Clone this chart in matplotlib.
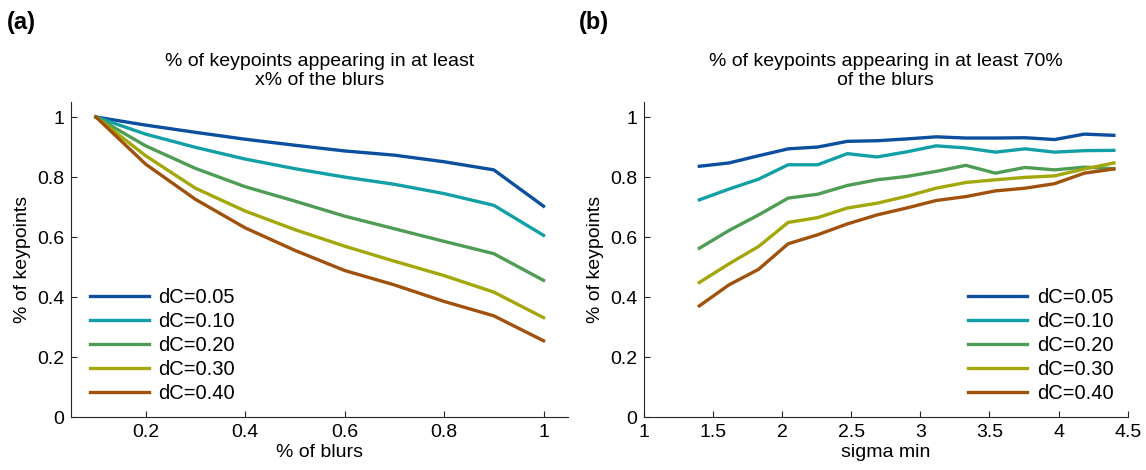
import matplotlib
matplotlib.use('Agg')
import matplotlib.pyplot as plt
import numpy as np

plt.rcParams['font.family'] = ['Liberation Sans', 'DejaVu Sans']

# panel (a): x = % of blurs
blur_frac = [0.1, 0.2, 0.3, 0.4, 0.5, 0.6, 0.7, 0.8, 0.9, 1.0]
a_005 = [1.0, 0.973, 0.949, 0.926, 0.906, 0.887, 0.873, 0.851, 0.824, 0.703]
a_010 = [1.0, 0.943, 0.899, 0.860, 0.828, 0.800, 0.776, 0.745, 0.706, 0.606]
a_020 = [1.0, 0.904, 0.829, 0.768, 0.720, 0.670, 0.628, 0.586, 0.545, 0.456]
a_030 = [1.0, 0.871, 0.763, 0.687, 0.625, 0.570, 0.520, 0.472, 0.417, 0.332]
a_040 = [1.0, 0.843, 0.726, 0.631, 0.556, 0.489, 0.441, 0.386, 0.338, 0.255]

# panel (b): x = sigma min
sigma_min = [1.4, 1.614, 1.829, 2.043, 2.257, 2.471, 2.686, 2.9,
             3.114, 3.329, 3.543, 3.757, 3.971, 4.186, 4.4]
b_005 = [0.836, 0.847, 0.871, 0.894, 0.900, 0.919, 0.921, 0.927,
         0.934, 0.930, 0.930, 0.931, 0.925, 0.943, 0.939]
b_010 = [0.724, 0.760, 0.793, 0.841, 0.841, 0.878, 0.867, 0.884,
         0.904, 0.897, 0.883, 0.894, 0.883, 0.888, 0.889]
b_020 = [0.563, 0.622, 0.674, 0.730, 0.743, 0.772, 0.791, 0.802,
         0.819, 0.839, 0.813, 0.832, 0.824, 0.833, 0.828]
b_030 = [0.449, 0.511, 0.569, 0.649, 0.665, 0.697, 0.713, 0.736,
         0.763, 0.782, 0.791, 0.799, 0.804, 0.827, 0.847]
b_040 = [0.371, 0.441, 0.493, 0.578, 0.608, 0.644, 0.674, 0.697,
         0.722, 0.735, 0.754, 0.763, 0.778, 0.813, 0.827]

labels = ['dC=0.05', 'dC=0.10', 'dC=0.20', 'dC=0.30', 'dC=0.40']
colors = ['#0b4f9e', '#12a0a6', '#4f9d55', '#a3a70a', '#a0520c']

fig = plt.figure(figsize=(11.46, 4.70), dpi=100)
axa = fig.add_axes([0.062, 0.112, 0.434, 0.671])
axb = fig.add_axes([0.562, 0.112, 0.422, 0.671])

fs = 14
for ax, x, series in [(axa, blur_frac, [a_005, a_010, a_020, a_030, a_040]),
                      (axb, sigma_min, [b_005, b_010, b_020, b_030, b_040])]:
    for y, c, lab in zip(series, colors, labels):
        ax.plot(x, y, color=c, lw=2.4, label=lab, solid_joinstyle='round')
    ax.set_ylim(0, 1.05)
    ax.set_yticks([0, 0.2, 0.4, 0.6, 0.8, 1])
    ax.set_yticklabels(['0', '0.2', '0.4', '0.6', '0.8', '1'])
    ax.spines['top'].set_visible(False)
    ax.spines['right'].set_visible(False)
    for s in ['left', 'bottom']:
        ax.spines[s].set_linewidth(0.8)
        ax.spines[s].set_color('#262626')
    ax.tick_params(direction='in', length=4, width=0.8, labelsize=fs,
                   color='#262626', pad=5)
    ax.set_ylabel('% of keypoints', fontsize=fs, labelpad=4)

axa.set_xlim(0.05, 1.05)
axa.set_xticks([0.2, 0.4, 0.6, 0.8, 1])
axa.set_xticklabels(['0.2', '0.4', '0.6', '0.8', '1'])
axa.set_xlabel('% of blurs', fontsize=fs, labelpad=2)
axa.set_title('% of keypoints appearing in at least\nx% of the blurs',
              fontsize=fs, pad=12, linespacing=1.2)
axa.legend(loc='lower left', bbox_to_anchor=(0.01, 0.0), frameon=False,
           fontsize=14.5, handlelength=2.9, labelspacing=0.25, handletextpad=0.5,
           borderaxespad=0.3)

axb.set_xlim(1, 4.5)
axb.set_xticks([1, 1.5, 2, 2.5, 3, 3.5, 4, 4.5])
axb.set_xticklabels(['1', '1.5', '2', '2.5', '3', '3.5', '4', '4.5'])
axb.set_xlabel('sigma min', fontsize=fs, labelpad=2)
axb.set_title('% of keypoints appearing in at least 70%\nof the blurs',
              fontsize=fs, pad=12, linespacing=1.2)
axb.legend(loc='lower right', bbox_to_anchor=(1.0, 0.0), frameon=False,
           fontsize=14.5, handlelength=2.9, labelspacing=0.25, handletextpad=0.5,
           borderaxespad=0.3)

fig.text(0.006, 0.953, '(a)', fontsize=17, fontweight='bold', va='center')
fig.text(0.505, 0.953, '(b)', fontsize=17, fontweight='bold', va='center')

fig.savefig('out.png', dpi=100)
